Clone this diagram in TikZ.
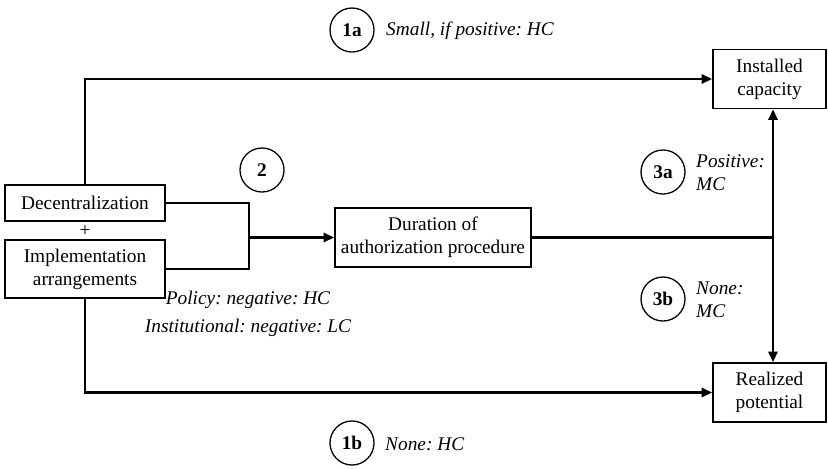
\documentclass[tikz,border=0pt]{standalone}
\usepackage{fontspec}
\setmainfont{Liberation Serif}
\usetikzlibrary{arrows.meta}

\newcommand\figsize{\fontsize{16.5}{19.5}\selectfont}
\frenchspacing

\tikzset{
  box/.style={draw, line width=1.6pt, align=center, inner sep=2pt},
  numcirc/.style={draw, circle, line width=1.1pt, minimum size=44*0.03cm, inner sep=0pt, font=\figsize\bfseries},
  note/.style={align=left, font=\figsize\itshape, inner sep=0pt, anchor=west},
  link/.style={line width=2pt},
  arrow/.style={link, -{Triangle[length=9pt,width=8pt]}}
}

\begin{document}
\begin{tikzpicture}[x=0.03cm, y=-0.03cm, font=\figsize, line cap=butt, line join=miter]
  \useasboundingbox (0,0) rectangle (828,468);

  % boxes
  \node[box, minimum width=160*0.03cm, minimum height=36*0.03cm] (dec) at (85,203) {Decentralization};
  \node (plus) at (85,231) {+};
  \node[box, minimum width=160*0.03cm, minimum height=58*0.03cm] (impl) at (85,269) {Implementation\\arrangements};
  \node[box, minimum width=196*0.03cm, minimum height=59*0.03cm] (dur) at (433,237.5) {Duration of\\authorization procedure};
  \node[box, minimum width=113*0.03cm, minimum height=59*0.03cm] (inst) at (769.5,79) {Installed\\capacity};
  \node[box, minimum width=113*0.03cm, minimum height=59*0.03cm] (real) at (769.5,392.5) {Realized\\potential};

  % numbered effects
  \node[numcirc] (c1a) at (352,30) {1a};
  \node[note] (t1a) at (386,31) {Small, if positive: HC};
  \node[numcirc] (c2) at (262,170) {2};
  \node[note, align=center, anchor=center] (t2) at (248,314) {Policy: negative: HC\\[4pt]Institutional: negative: LC};
  \node[numcirc] (c3a) at (663,172) {3a};
  \node[note] (t3a) at (696,173) {Positive:\\MC};
  \node[numcirc] (c3b) at (663,299) {3b};
  \node[note] (t3b) at (696,300) {None:\\MC};
  \node[numcirc] (c1b) at (352,443) {1b};
  \node[note] (t1b) at (385,444) {None: HC};

  % connectors
  \coordinate (jn) at (249,237.5);
  \coordinate (split) at (773,237.5);
  \draw[arrow] (dec.north) |- (inst.west);
  \draw[link] (dec.east) -| (jn);
  \draw[link] (impl.east) -| (jn);
  \draw[arrow] (jn) -- (dur.west);
  \draw[link] (dur.east) -- (split);
  \draw[arrow] (split) -- (split |- inst.south);
  \draw[arrow] (split) -- (split |- real.north);
  \draw[arrow] (impl.south) |- (real.west);
\end{tikzpicture}
\end{document}
